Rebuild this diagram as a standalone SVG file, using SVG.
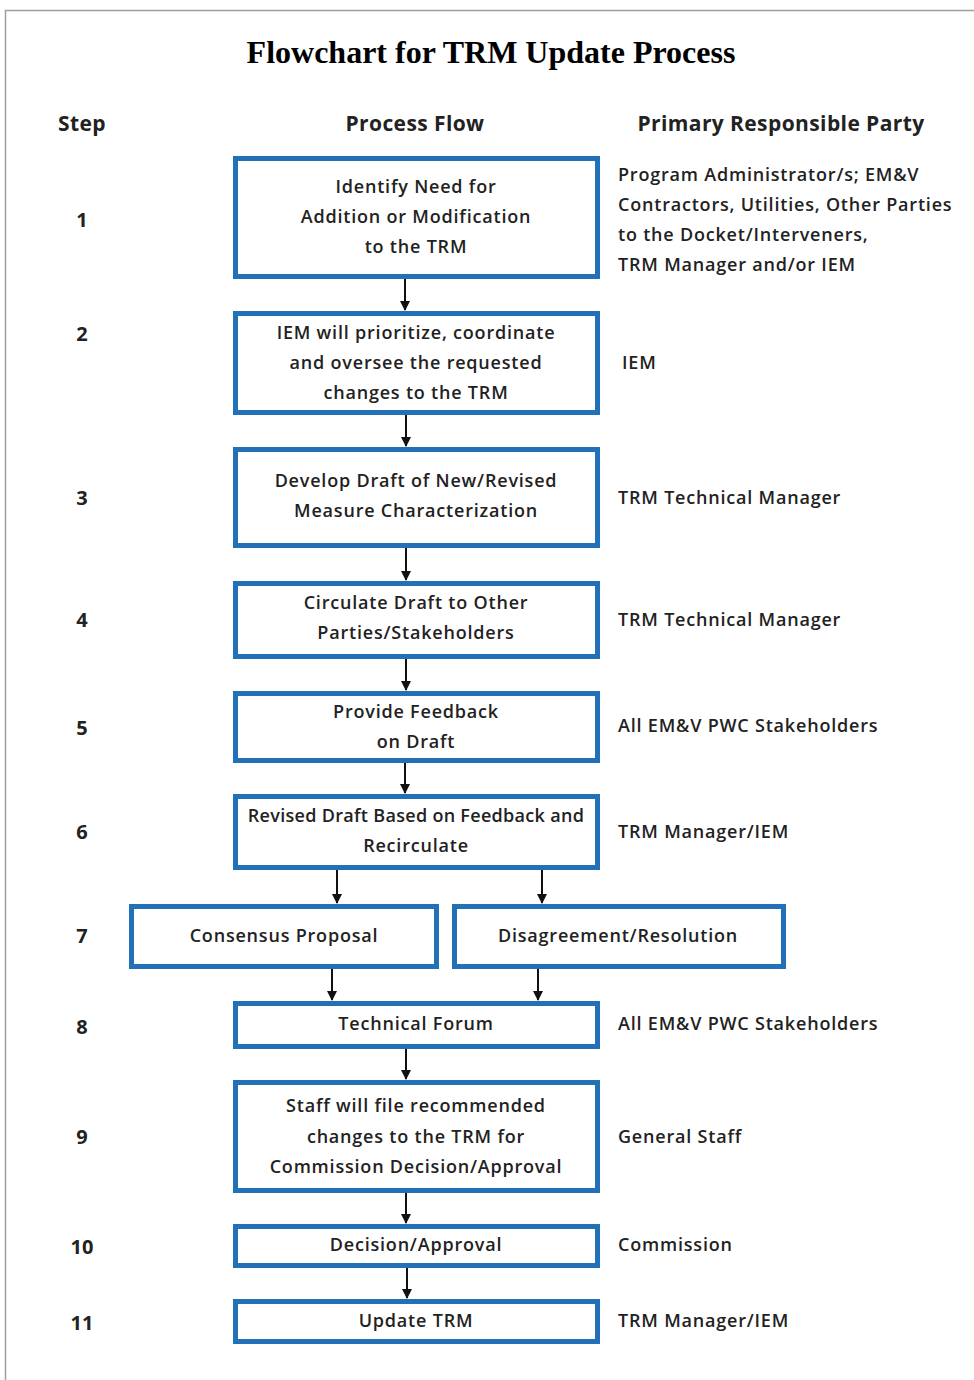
<svg xmlns="http://www.w3.org/2000/svg" width="974" height="1380" viewBox="0 0 974 1380">
<defs>
<style>
.frame{stroke:#a0a0a0;stroke-width:1.5;fill:none}
.box{fill:#fff;stroke:#2271b8;stroke-width:5}
.t{font-family:"Open Sans","Liberation Sans",sans-serif;font-size:18px;font-weight:600;letter-spacing:0.8px;fill:#222;text-anchor:middle}
.r{font-family:"Open Sans","Liberation Sans",sans-serif;font-size:18px;font-weight:600;letter-spacing:0.8px;fill:#222}
.tight{letter-spacing:0.3px}
.h{font-family:"Open Sans","Liberation Sans",sans-serif;font-size:21px;font-weight:bold;letter-spacing:0.4px;fill:#222;text-anchor:middle}
.n{font-family:"Open Sans","Liberation Sans",sans-serif;font-size:20px;font-weight:bold;fill:#222;text-anchor:middle}
.title{font-family:"Liberation Serif","Times New Roman",serif;font-size:32px;font-weight:bold;fill:#000;text-anchor:middle}
.c{stroke:#111;stroke-width:2;fill:none;marker-end:url(#ah)}
</style>
<marker id="ah" viewBox="0 0 10 10" refX="9" refY="5" markerWidth="5" markerHeight="5" orient="auto" markerUnits="strokeWidth">
<path d="M0,0 L10,5 L0,10 z" fill="#111"/>
</marker>
</defs>
<rect width="974" height="1380" fill="#fff"/>
<path class="frame" d="M974,10.5 H5.5 V1380"/>
<text class="title" x="491" y="63">Flowchart for TRM Update Process</text>
<g id="headers">
<text class="h" x="82" y="131">Step</text>
<text class="h" x="415" y="131">Process Flow</text>
<text class="h" x="781" y="131">Primary Responsible Party</text>
</g>
<g id="steps">
<text class="n" x="82" y="227">1</text>
<text class="n" x="82" y="341">2</text>
<text class="n" x="82" y="505">3</text>
<text class="n" x="82" y="627">4</text>
<text class="n" x="82" y="735">5</text>
<text class="n" x="82" y="839">6</text>
<text class="n" x="82" y="943">7</text>
<text class="n" x="82" y="1034">8</text>
<text class="n" x="82" y="1144">9</text>
<text class="n" x="82" y="1254">10</text>
<text class="n" x="82" y="1330">11</text>
</g>
<g id="connectors">
<line class="c" x1="405" y1="279" x2="405" y2="310"/>
<line class="c" x1="406" y1="415" x2="406" y2="446"/>
<line class="c" x1="406" y1="548" x2="406" y2="580"/>
<line class="c" x1="406" y1="659" x2="406" y2="690"/>
<line class="c" x1="405" y1="763" x2="405" y2="793"/>
<line class="c" x1="337" y1="870" x2="337" y2="903"/>
<line class="c" x1="542" y1="870" x2="542" y2="903"/>
<line class="c" x1="332" y1="969" x2="332" y2="1000"/>
<line class="c" x1="538" y1="969" x2="538" y2="1000"/>
<line class="c" x1="406" y1="1049" x2="406" y2="1079"/>
<line class="c" x1="406" y1="1193" x2="406" y2="1223"/>
<line class="c" x1="407" y1="1268" x2="407" y2="1298"/>
</g>
<g id="n1">
<rect class="box" x="235.5" y="158.5" width="362" height="118"/>
<text class="t" x="416" y="193">Identify Need for</text>
<text class="t" x="416" y="223">Addition or Modification</text>
<text class="t" x="416" y="253">to the TRM</text>
<text class="r" x="618" y="181">Program Administrator/s; EM&amp;V</text>
<text class="r" x="618" y="211">Contractors, Utilities, Other Parties</text>
<text class="r" x="618" y="241">to the Docket/Interveners,</text>
<text class="r" x="618" y="271">TRM Manager and/or IEM</text>
</g>
<g id="n2">
<rect class="box" x="235.5" y="313.5" width="362" height="99"/>
<text class="t" x="416" y="339">IEM will prioritize, coordinate</text>
<text class="t" x="416" y="369">and oversee the requested</text>
<text class="t" x="416" y="399">changes to the TRM</text>
<text class="r" x="622" y="369">IEM</text>
</g>
<g id="n3">
<rect class="box" x="235.5" y="449.5" width="362" height="96"/>
<text class="t" x="416" y="487">Develop Draft of New/Revised</text>
<text class="t" x="416" y="517">Measure Characterization</text>
<text class="r" x="618" y="504">TRM Technical Manager</text>
</g>
<g id="n4">
<rect class="box" x="235.5" y="583.5" width="362" height="73"/>
<text class="t" x="416" y="609">Circulate Draft to Other</text>
<text class="t" x="416" y="639">Parties/Stakeholders</text>
<text class="r" x="618" y="626">TRM Technical Manager</text>
</g>
<g id="n5">
<rect class="box" x="235.5" y="693.5" width="362" height="67"/>
<text class="t" x="416" y="718">Provide Feedback</text>
<text class="t" x="416" y="748">on Draft</text>
<text class="r" x="618" y="732">All EM&amp;V PWC Stakeholders</text>
</g>
<g id="n6">
<rect class="box" x="235.5" y="796.5" width="362" height="71"/>
<text class="t tight" x="416" y="822">Revised Draft Based on Feedback and</text>
<text class="t" x="416" y="852">Recirculate</text>
<text class="r" x="618" y="838">TRM Manager/IEM</text>
</g>
<g id="n7a">
<rect class="box" x="131.5" y="906.5" width="305" height="60"/>
<text class="t" x="284" y="942">Consensus Proposal</text>
</g>
<g id="n7b">
<rect class="box" x="454.5" y="906.5" width="329" height="60"/>
<text class="t" x="618" y="942">Disagreement/Resolution</text>
</g>
<g id="n8">
<rect class="box" x="235.5" y="1003.5" width="362" height="43"/>
<text class="t" x="416" y="1030">Technical Forum</text>
<text class="r" x="618" y="1030">All EM&amp;V PWC Stakeholders</text>
</g>
<g id="n9">
<rect class="box" x="235.5" y="1082.5" width="362" height="108"/>
<text class="t" x="416" y="1112">Staff will file recommended</text>
<text class="t" x="416" y="1143">changes to the TRM for</text>
<text class="t" x="416" y="1173">Commission Decision/Approval</text>
<text class="r" x="618" y="1143">General Staff</text>
</g>
<g id="n10">
<rect class="box" x="235.5" y="1226.5" width="362" height="39"/>
<text class="t" x="416" y="1251">Decision/Approval</text>
<text class="r" x="618" y="1251">Commission</text>
</g>
<g id="n11">
<rect class="box" x="235.5" y="1301.5" width="362" height="40"/>
<text class="t" x="416" y="1327">Update TRM</text>
<text class="r" x="618" y="1327">TRM Manager/IEM</text>
</g>
</svg>
